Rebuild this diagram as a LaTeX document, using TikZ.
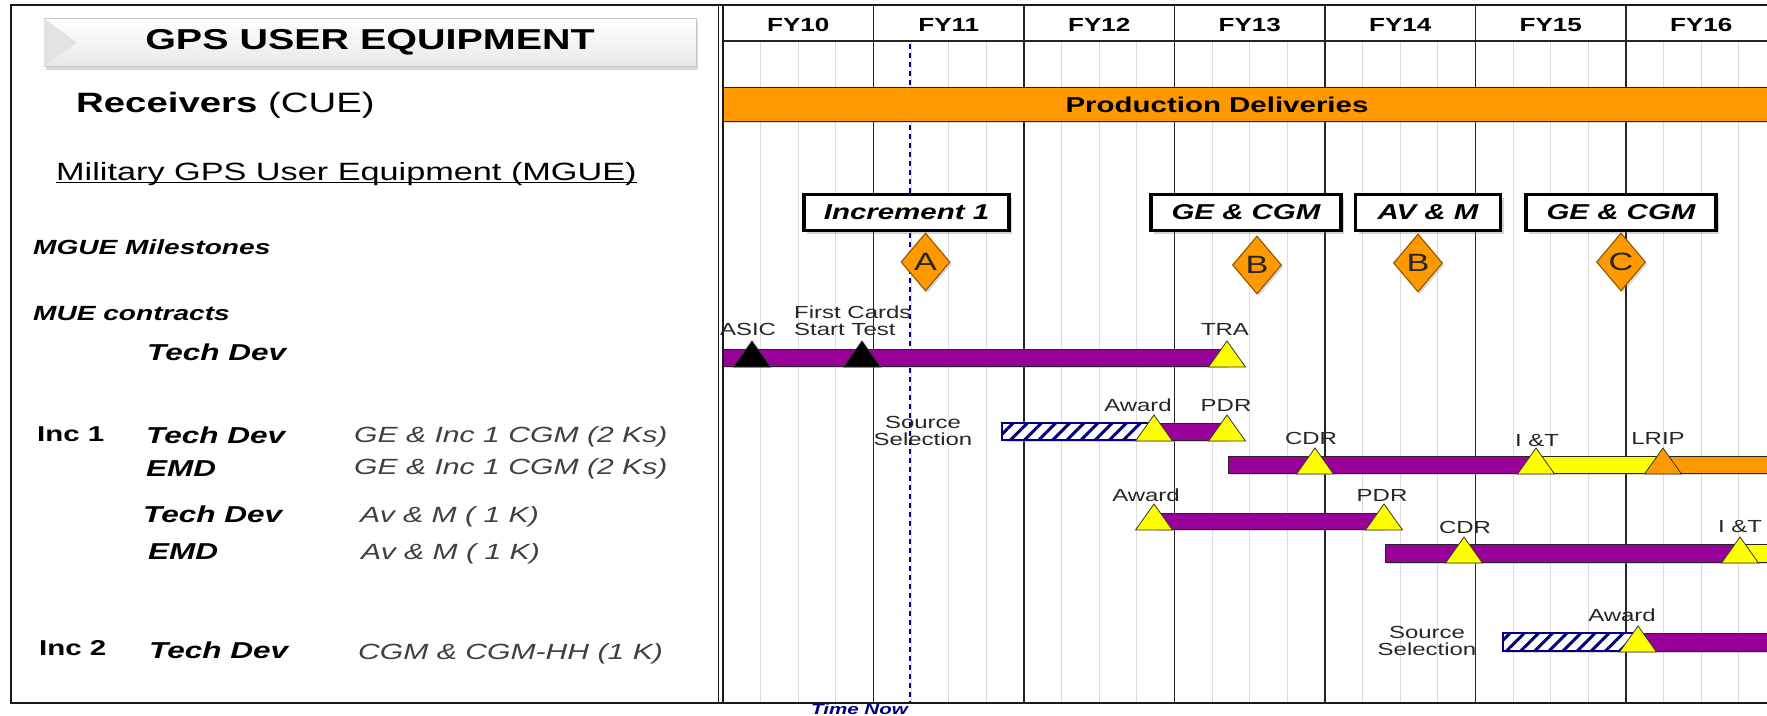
\documentclass[tikz,border=0pt]{standalone}
\usepackage{fontspec}
\setmainfont{Liberation Sans}[FakeStretch=1.37]
\usetikzlibrary{shapes.geometric,shadows,patterns.meta,positioning}
\definecolor{MsPurple}{HTML}{990099}
\definecolor{MsYellow}{HTML}{FFFF00}
\definecolor{MsOrange}{HTML}{FF9900}
\definecolor{MsNavy}{HTML}{000080}
\definecolor{MsBrown}{HTML}{9A5A00}
\definecolor{GridGray}{HTML}{DCDCDC}
\tikzset{
  gridln/.style={GridGray, line width=0.9pt},
  yearln/.style={black!85, line width=1.5pt},
  bar/.style={draw=black!85, line width=0.9pt,
              drop shadow={shadow xshift=2pt, shadow yshift=-2pt, opacity=0.3}},
  hatchbar/.style={draw=MsNavy, line width=1.2pt, preaction={fill=white},
              pattern={Lines[angle=45,distance=10pt,line width=3pt]}, pattern color=MsNavy},
  msmark/.style={draw=black!80, line width=0.8pt},
  msbox/.style={draw=black, line width=3.5pt, fill=white, minimum height=36pt, inner sep=0pt,
              font=\fontsize{21.5}{21.5}\selectfont\bfseries\itshape,
              drop shadow={shadow xshift=3pt, shadow yshift=-3pt, opacity=0.35}},
  msdia/.style={shape=diamond, draw=MsBrown, line width=1.2pt, fill=MsOrange, inner sep=0pt,
              minimum width=49pt, minimum height=58pt, text=black!85,
              font=\fontsize{25}{25}\selectfont,
              drop shadow={shadow xshift=2pt, shadow yshift=-2pt, opacity=0.3}},
  lbl/.style={inner sep=0pt, align=center, text=black!85, font=\fontsize{17.5}{17}\selectfont},
  fylbl/.style={inner sep=0pt, font=\fontsize{19}{19}\selectfont\bfseries},
  rowlbl/.style={anchor=base west, inner sep=0pt, font=\fontsize{23}{23}\selectfont\bfseries\itshape},
  inclbl/.style={anchor=base west, inner sep=0pt, font=\fontsize{21.5}{21.5}\selectfont\bfseries},
  desc/.style={anchor=base west, inner sep=0pt, text=black!75, font=\fontsize{22}{22}\selectfont\itshape},
  grplbl/.style={anchor=base west, inner sep=0pt, font=\fontsize{20.5}{20.5}\selectfont\bfseries\itshape}
}
% triangle milestone: x, bottom of bar, fill
\newcommand{\mstri}[3]{\draw[msmark, fill=#3] (#1-18.5,#2+1) -- (#1,#2-25) -- (#1+18.5,#2+1) -- cycle;}

\begin{document}
\begin{tikzpicture}[x=1pt, y=-1pt]
\useasboundingbox (0,0) rectangle (1767,715);
\clip (0,0) rectangle (1767,715);

% chart grid
\foreach \k in {0,...,6}
  \foreach \q in {1,2,3}
    \draw[gridln] ({723+150.5*\k+37.625*\q},41) -- ({723+150.5*\k+37.625*\q},703);
\foreach \k in {1,...,6}
  \draw[yearln] ({723+150.5*\k},6) -- ({723+150.5*\k},703);
\draw[black!85, line width=1.2pt] (723,41) -- (1790,41);
\foreach \fy [count=\k from 0] in {10,...,16}
  \node[fylbl] (fy\fy) at ({723+150.5*\k+75.25},25) {FY\fy};

% time now
\draw[MsNavy, line width=1.3pt, dash pattern=on 5pt off 4pt] (910,44) -- (910,702);
\node[anchor=base west, inner sep=0pt, text=MsNavy,
      font=\fontsize{15}{15}\selectfont\bfseries\itshape] (timenow) at (811,714.5) {Time Now};

% production
\draw[bar, fill=MsOrange] (723,87) rectangle (1790,121);
\node[inner sep=0pt, font=\fontsize{21.5}{21.5}\selectfont\bfseries] (proddel) at (1217,104.5) {Production Deliveries};

% milestone decisions
\node[msbox, minimum width=205pt] (inc1) at (906.5,212.5) {Increment 1};
\node[msbox, minimum width=190pt] (gecgm1) at (1246,212.5) {GE \& CGM};
\node[msbox, minimum width=145pt] (avm) at (1428,212.5) {AV \& M};
\node[msbox, minimum width=190pt] (gecgm2) at (1621,212.5) {GE \& CGM};
\node[msdia] (msA) at (925.5,262) {A};
\node[msdia] (msB1) at (1257,265) {B};
\node[msdia] (msB2) at (1418,263) {B};
\node[msdia] (msC) at (1621,262) {C};

% MUE tech dev
\draw[bar, fill=MsPurple] (723,349) rectangle (1227,366);
\mstri{752}{366}{black}
\mstri{862}{366}{black}
\mstri{1227}{366}{MsYellow}
\node[lbl] (asic) at (748,329) {ASIC};
\node[lbl, align=left, anchor=west] (firstcards) at (794,320.5) {First Cards\\Start Test};
\node[lbl] (tra) at (1225,329) {TRA};

% Inc 1 tech dev
\draw[bar, hatchbar] (1002,423) rectangle (1154,440);
\draw[bar, fill=MsPurple] (1154,423) rectangle (1227,440);
\mstri{1154}{440}{MsYellow}
\mstri{1227}{440}{MsYellow}
\node[lbl] (srcsel1) at (923,431) {Source\\Selection};
\node[lbl] (award1) at (1138,405) {Award};
\node[lbl] (pdr1) at (1226,405) {PDR};

% Inc 1 EMD
\draw[bar, fill=MsPurple] (1228,456) rectangle (1536,473);
\draw[bar, fill=MsYellow] (1536,456) rectangle (1663,473);
\draw[bar, fill=MsOrange] (1663,456) rectangle (1790,473);
\mstri{1315}{473}{MsYellow}
\mstri{1536}{473}{MsYellow}
\mstri{1663}{473}{MsOrange}
\node[lbl] (cdr1) at (1311,438) {CDR};
\node[lbl] (it1) at (1537,441) {I \&T};
\node[lbl] (lrip) at (1658,438) {LRIP};

% Av & M tech dev
\draw[bar, fill=MsPurple] (1154,513) rectangle (1384,529);
\mstri{1154}{529}{MsYellow}
\mstri{1384}{529}{MsYellow}
\node[lbl] (award2) at (1146,495) {Award};
\node[lbl] (pdr2) at (1382,495) {PDR};

% Av & M EMD
\draw[bar, fill=MsPurple] (1385,544) rectangle (1740,562);
\draw[bar, fill=MsYellow] (1740,544) rectangle (1790,562);
\mstri{1464}{562}{MsYellow}
\mstri{1740}{562}{MsYellow}
\node[lbl] (cdr2) at (1465,527) {CDR};
\node[lbl] (it2) at (1740,527) {I \&T};

% Inc 2 tech dev
\draw[bar, hatchbar] (1503,633) rectangle (1638,651);
\draw[bar, fill=MsPurple] (1638,633) rectangle (1790,651);
\mstri{1638}{651}{MsYellow}
\node[lbl] (srcsel2) at (1427,641) {Source\\Selection};
\node[lbl] (award3) at (1622,615) {Award};

% left panel
\node[draw=gray!45, top color=white, bottom color=gray!18, minimum width=652pt, minimum height=48pt,
      inner sep=0pt, font=\fontsize{28.8}{28.8}\selectfont\bfseries,
      drop shadow={shadow xshift=2pt, shadow yshift=-3pt, opacity=0.3}] (title) at (370,42.5) {GPS USER EQUIPMENT};
\fill[gray!22] (title.north west) -- ([xshift=33pt]title.west) -- (title.south west) -- cycle;
\node[anchor=base west, inner sep=0pt, font=\fontsize{28}{28}\selectfont] (receivers) at (76,112.5) {\textbf{Receivers} (CUE)};
\node[anchor=base west, inner sep=0pt, font=\fontsize{25}{25}\selectfont] (mgue) at (56,180) {Military GPS User Equipment (MGUE)};
\draw[line width=1.6pt] ([yshift=-2.5pt]mgue.base west) -- ([yshift=-2.5pt]mgue.base east);
\node[grplbl] (milestones) at (33,254) {MGUE Milestones};
\node[grplbl] (contracts) at (33,320) {MUE contracts};
\node[rowlbl] (td0) at (147,360) {Tech Dev};
\node[inclbl] (inc1lbl) at (37,441) {Inc 1};
\node[rowlbl] (td1) at (146,443) {Tech Dev};
\node[desc] (d1) at (354,442) {GE \& Inc 1 CGM (2 Ks)};
\node[rowlbl] (emd1) at (146,476) {EMD};
\node[desc] (d2) at (354,474) {GE \& Inc 1 CGM (2 Ks)};
\node[rowlbl] (td2) at (143,522) {Tech Dev};
\node[desc] (d3) at (360,522) {Av \& M ( 1 K)};
\node[rowlbl] (emd2) at (148,559) {EMD};
\node[desc] (d4) at (361,559) {Av \& M ( 1 K)};
\node[inclbl] (inc2lbl) at (39,655) {Inc 2};
\node[rowlbl] (td3) at (149,658) {Tech Dev};
\node[desc] (d5) at (358,659) {CGM \& CGM-HH (1 K)};

% frame
\draw[black!90, line width=2pt] (11,5) rectangle (1800,703);
\draw[black!90, line width=1.5pt] (718.5,5) -- (718.5,703);
\draw[black!90, line width=1.5pt] (723,5) -- (723,703);
\end{tikzpicture}
\end{document}
